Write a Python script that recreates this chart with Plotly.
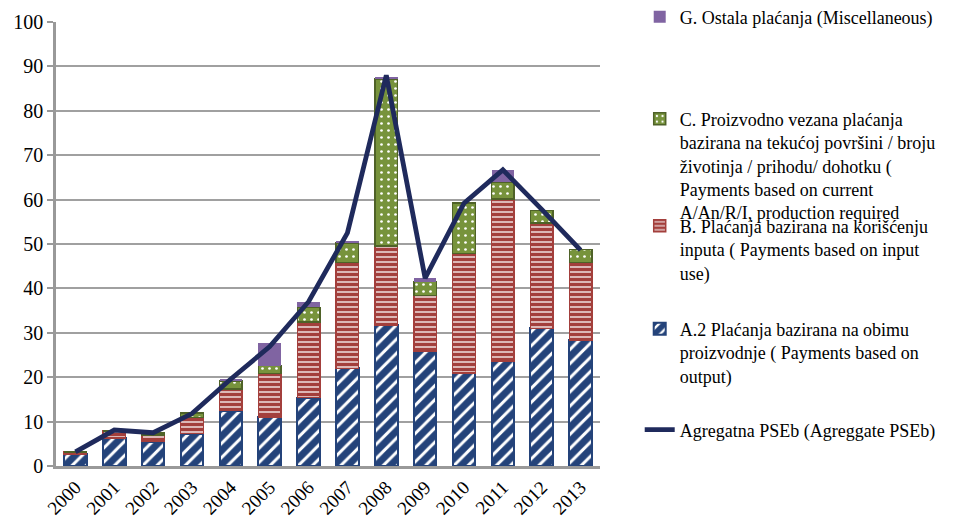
import plotly.graph_objects as go

years = ["2000", "2001", "2002", "2003", "2004", "2005", "2006",
         "2007", "2008", "2009", "2010", "2011", "2012", "2013"]

a2_output = [2.7, 6.3, 5.5, 7.3, 12.5, 11.0, 15.4, 22.0, 31.8, 25.9, 20.9, 23.6, 31.0, 28.4]
b_input = [0.5, 1.6, 1.5, 3.6, 4.8, 9.8, 17.0, 23.8, 17.8, 12.5, 27.0, 36.5, 23.7, 17.4]
c_area = [0.0, 0.0, 0.4, 1.0, 1.9, 1.8, 3.3, 4.4, 37.6, 3.1, 11.3, 3.9, 2.8, 3.0]
g_misc = [0.0, 0.0, 0.0, 0.0, 0.2, 5.2, 1.3, 0.5, 0.5, 0.9, 0.0, 2.7, 0.0, 0.0]
pse_aggregate = [3.2, 8.1, 7.5, 11.8, 19.6, 26.9, 37.0, 52.5, 88.0, 42.3, 59.2, 66.7, 57.8, 48.6]

name_g = "G. Ostala plaćanja (Miscellaneous)"
name_c = ("C. Proizvodno vezana plaćanja<br>bazirana na tekućoj površini / broju<br>"
          "životinja / prihodu/ dohotku (<br>Payments based on current<br>"
          "A/An/R/I, production required")
name_b = "B. Plaćanja bazirana na korišćenju<br>inputa ( Payments based on input<br>use)"
name_a = "A.2 Plaćanja bazirana na obimu<br>proizvodnje ( Payments based on<br>output)"
name_l = "Agregatna PSEb (Agreggate PSEb)"

FONT = "Liberation Serif"
NAVY = "#24437A"
RED = "#A33F3C"
GREEN = "#77933C"
PURPLE = "#8064A2"
LINE = "#1F2A5C"

fig = go.Figure()
fig.add_trace(go.Bar(
    x=years, y=a2_output, name=name_a, legend="legend4",
    marker=dict(color="white", line=dict(color=NAVY, width=2),
                pattern=dict(shape="/", fgcolor=NAVY, bgcolor="white", fgopacity=1,
                             size=10, solidity=0.7)),
))
fig.add_trace(go.Bar(
    x=years, y=b_input, name=name_b, legend="legend3",
    marker=dict(color="white", line=dict(color=RED, width=1.5),
                pattern=dict(shape="-", fgcolor=RED, bgcolor="white", fgopacity=1,
                             size=5, solidity=0.75)),
))
fig.add_trace(go.Bar(
    x=years, y=c_area, name=name_c, legend="legend2",
    marker=dict(color=GREEN, line=dict(color="#4F6228", width=1.5),
                pattern=dict(shape=".", fgcolor="white", bgcolor=GREEN, fgopacity=1,
                             size=7, solidity=0.12)),
))
fig.add_trace(go.Bar(
    x=years, y=g_misc, name=name_g, legend="legend6",
    marker=dict(color=PURPLE, line=dict(width=0)),
))
fig.add_trace(go.Scatter(
    x=years, y=pse_aggregate, name=name_l, legend="legend5",
    mode="lines", line=dict(color=LINE, width=4.8),
))

leg_common = dict(xanchor="left", yanchor="top", font=dict(family=FONT, size=18, color="black"),
                  bgcolor="rgba(0,0,0,0)", valign="top", itemwidth=30)
lx = 1.073

# The page body has an 8px margin, so the figure is 8px smaller than the window
fig.update_layout(
    width=948, height=516,
    margin=dict(l=48, r=356, t=14, b=58, autoexpand=False),
    paper_bgcolor="white", plot_bgcolor="white",
    barmode="stack", bargap=0.42,
    font=dict(family=FONT, size=20, color="black"),
    legend6=dict(x=lx, y=1.053, **leg_common),
    legend2=dict(x=lx, y=0.823, **leg_common),
    legend3=dict(x=lx, y=0.582, **leg_common),
    legend4=dict(x=lx, y=0.350, **leg_common),
    legend5=dict(x=lx, y=0.123, **leg_common),
    xaxis=dict(type="category", tickangle=-45, showline=True, linecolor="#999999",
               linewidth=2.5, ticks="", tickfont=dict(family=FONT, size=19, color="black"),
               showgrid=False, automargin=False),
    yaxis=dict(range=[0, 100], dtick=10, showgrid=True, gridcolor="#A0A0A0", gridwidth=1.5,
               showline=True, linecolor="#999999", linewidth=2.5, ticks="outside",
               ticklen=6, tickcolor="#999999", tickwidth=1.5, automargin=False,
               tickfont=dict(family=FONT, size=20, color="black"), zeroline=False),
)

fig.write_html("out.html")
